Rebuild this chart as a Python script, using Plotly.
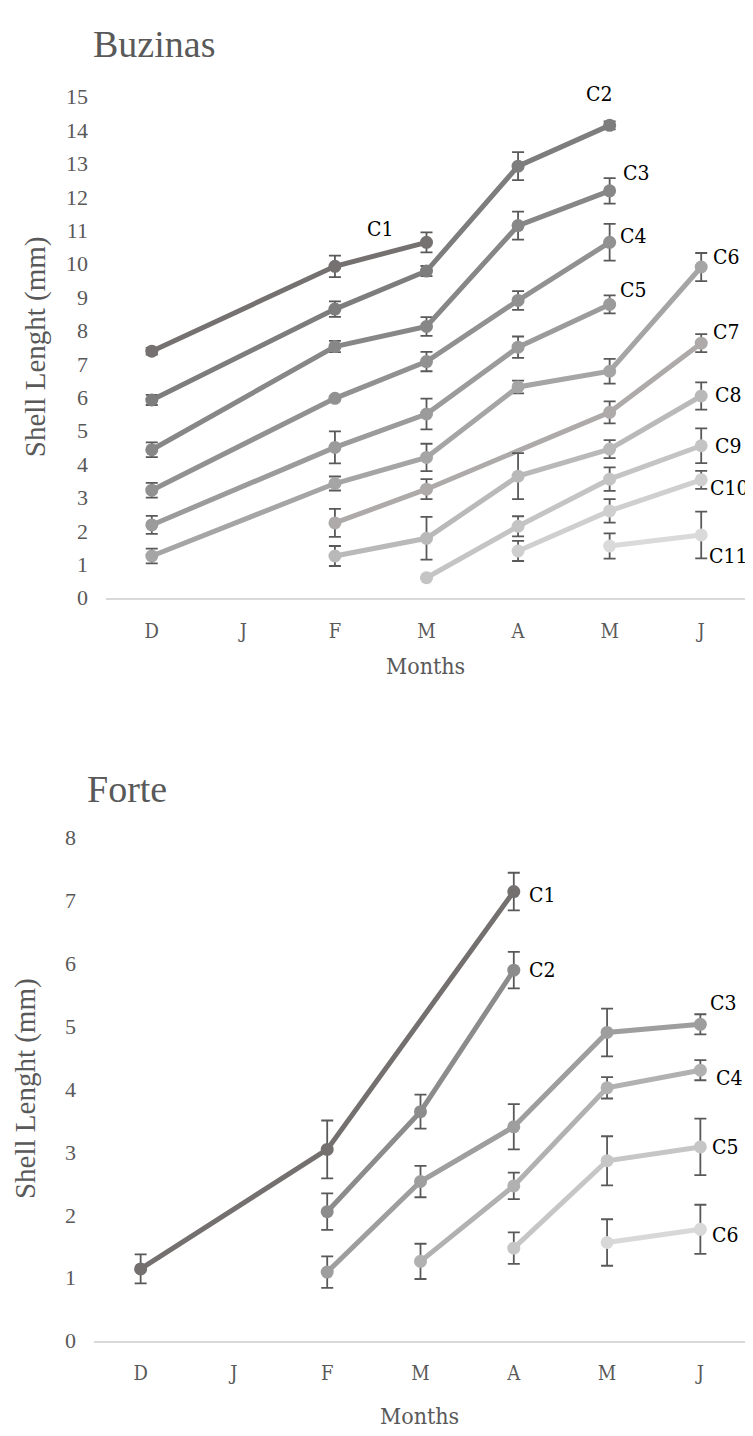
import plotly.graph_objects as go

months = ["D", "J", "F", "M", "A", "M", "J"]
xpos = list(range(len(months)))

# ---- Buzinas ----
buz_names = ["C1", "C2", "C3", "C4", "C5", "C6", "C7", "C8", "C9", "C10", "C11"]
buz_C1 = [7.38, None, 9.92, 10.64, None, None, None]
buz_C2 = [5.92, None, 8.64, 9.78, 12.92, 14.14, None]
buz_C3 = [4.43, None, 7.52, 8.12, 11.14, 12.18, None]
buz_C4 = [3.22, None, 5.97, 7.07, 8.90, 10.64, None]
buz_C5 = [2.18, None, 4.50, 5.50, 7.50, 8.78, None]
buz_C6 = [1.25, None, 3.42, 4.20, 6.31, 6.78, 9.90]
buz_C7 = [None, None, 2.24, 3.25, None, 5.55, 7.62]
buz_C8 = [None, None, 1.25, 1.78, 3.64, 4.45, 6.04]
buz_C9 = [None, None, None, 0.60, 2.14, 3.55, 4.55]
buz_C10 = [None, None, None, None, 1.40, 2.60, 3.53]
buz_C11 = [None, None, None, None, None, 1.55, 1.88]

buz_E1 = [0.10, 0, 0.32, 0.30, 0, 0, 0]
buz_E2 = [0.15, 0, 0.23, 0.15, 0.42, 0.12, 0]
buz_E3 = [0.22, 0, 0.17, 0.28, 0.42, 0.38, 0]
buz_E4 = [0.22, 0, 0.06, 0.29, 0.28, 0.55, 0]
buz_E5 = [0.27, 0, 0.48, 0.46, 0.32, 0.27, 0]
buz_E6 = [0.22, 0, 0.21, 0.41, 0.19, 0.37, 0.42]
buz_E7 = [0, 0, 0.42, 0.30, 0, 0.33, 0.27]
buz_E8 = [0, 0, 0.30, 0.64, 0.69, 0.27, 0.41]
buz_E9 = [0, 0, 0, 0, 0.30, 0.35, 0.52]
buz_E10 = [0, 0, 0, 0, 0.30, 0.35, 0.27]
buz_E11 = [0, 0, 0, 0, 0, 0.38, 0.70]

buz_vals = [buz_C1, buz_C2, buz_C3, buz_C4, buz_C5, buz_C6, buz_C7, buz_C8, buz_C9, buz_C10, buz_C11]
buz_errs = [buz_E1, buz_E2, buz_E3, buz_E4, buz_E5, buz_E6, buz_E7, buz_E8, buz_E9, buz_E10, buz_E11]
buz_colors = ["#757171", "#7d7d7d", "#878787", "#919191", "#9b9b9b", "#a5a5a5",
              "#aeaaaa", "#b9b9b9", "#c4c4c4", "#cfcfcf", "#dadada"]
# label placement: (index of point, xshift, yshift, xanchor)
buz_label_pos = [(3, -47, 13, "center"), (5, -11, 31, "center"), (5, 11, 18, "left"),
                 (5, 8, 6, "left"), (5, 8, 14, "left"), (6, 10, 10, "left"),
                 (6, 10, 11, "left"), (6, 12, 1, "left"), (6, 12, 0, "left"),
                 (6, 7, -8, "left"), (6, 6, -21, "left")]

# ---- Forte ----
for_names = ["C1", "C2", "C3", "C4", "C5", "C6"]
for_C1 = [1.14, None, 3.04, None, 7.14, None, None]
for_C2 = [None, None, 2.05, 3.64, 5.89, None, None]
for_C3 = [None, None, 1.09, 2.53, 3.40, 4.90, 5.03]
for_C4 = [None, None, None, 1.26, 2.46, 4.02, 4.30]
for_C5 = [None, None, None, None, 1.47, 2.86, 3.08]
for_C6 = [None, None, None, None, None, 1.56, 1.77]

for_E1 = [0.23, 0, 0.46, 0, 0.30, 0, 0]
for_E2 = [0, 0, 0.29, 0.27, 0.29, 0, 0]
for_E3 = [0, 0, 0.25, 0.25, 0.36, 0.38, 0.16]
for_E4 = [0, 0, 0, 0.28, 0.21, 0.17, 0.16]
for_E5 = [0, 0, 0, 0, 0.25, 0.39, 0.45]
for_E6 = [0, 0, 0, 0, 0, 0.37, 0.39]

for_vals = [for_C1, for_C2, for_C3, for_C4, for_C5, for_C6]
for_errs = [for_E1, for_E2, for_E3, for_E4, for_E5, for_E6]
for_colors = ["#757070", "#8c8c8c", "#9e9e9e", "#b1b1b1", "#c6c6c6", "#d8d8d8"]
for_label_pos = [(4, 13, -3, "left"), (4, 13, 0, "left"), (6, 8, 21, "left"),
                 (6, 14, -8, "left"), (6, 10, 0, "left"), (6, 10, -6, "left")]

FONT = "Liberation Serif"
COND = "DejaVu Serif Condensed, Liberation Serif"
W, H = 753, 1436

fig = go.Figure()
annotations = []


def add_panel(names, vals, errs, colors, label_pos, xa, ya):
    for name, v, e, c, lp in zip(names, vals, errs, colors, label_pos):
        fig.add_trace(go.Scatter(
            x=xpos, y=v, name=name, mode="lines+markers", connectgaps=True,
            line=dict(color=c, width=5),
            marker=dict(color=c, size=13),
            error_y=dict(type="data", array=e, visible=True, color="#595959",
                         thickness=1.8, width=6),
            xaxis=xa, yaxis=ya, showlegend=False, cliponaxis=False))
        i, dx, dy, anc = lp
        annotations.append(dict(
            x=xpos[i], y=v[i], xref=xa, yref=ya, text=name, showarrow=False,
            xshift=dx, yshift=dy, xanchor=anc, yanchor="middle",
            font=dict(family=COND, size=21, color="#000000")))


add_panel(buz_names, buz_vals, buz_errs, buz_colors, buz_label_pos, "x", "y")
add_panel(for_names, for_vals, for_errs, for_colors, for_label_pos, "x2", "y2")


def px_x(p):
    return p / W


def px_y(p):
    return 1 - p / H


ytick_font = dict(family=FONT, size=22, color="#595959")
xtick_font = dict(family=COND, size=20, color="#595959")

texts = [
    ("Buzinas", 83, 24, 38, 0, "left", FONT),
    ("Forte", 77, 783, 38, 0, "left", FONT),
    ("Months", 418, 657, 23, 0, "center", COND),
    ("Months", 412, 1421, 23, 0, "center", COND),
    ("Shell Lenght (mm)", 27, 333, 29, -90, "center", FONT),
    ("Shell Lenght (mm)", 17, 1088, 29, -90, "center", FONT),
]
for txt, x, y, size, ang, anc, fam in texts:
    annotations.append(dict(
        x=px_x(x), y=px_y(y), xref="paper", yref="paper", text=txt, showarrow=False,
        xanchor=anc, yanchor="middle", textangle=ang,
        font=dict(family=fam, size=size, color="#595959")))

fig.update_layout(
    width=W, height=H, margin=dict(l=0, r=0, t=0, b=0),
    paper_bgcolor="white", plot_bgcolor="white",
    xaxis=dict(domain=[px_x(98), px_x(739)], range=[-0.5, 6.5], tickvals=xpos,
               ticktext=months, anchor="y", showline=True, linecolor="#d9d9d9",
               linewidth=1.5, ticklabelstandoff=14, showgrid=False, zeroline=False,
               ticks="", tickfont=xtick_font),
    yaxis=dict(domain=[px_y(588), px_y(78)], range=[0, 15], dtick=1, anchor="x",
               showline=False, ticklabelstandoff=17, showgrid=False, zeroline=False,
               ticks="", tickfont=ytick_font),
    xaxis2=dict(domain=[px_x(86), px_x(739)], range=[-0.5, 6.5], tickvals=xpos,
                ticktext=months, anchor="y2", showline=True, linecolor="#d9d9d9",
                linewidth=1.5, ticklabelstandoff=14, showgrid=False, zeroline=False,
                ticks="", tickfont=xtick_font),
    yaxis2=dict(domain=[px_y(1344), px_y(832)], range=[0, 8], dtick=1, anchor="x2",
                showline=False, ticklabelstandoff=17, showgrid=False, zeroline=False,
                ticks="", tickfont=ytick_font),
    annotations=annotations,
)

fig.write_html("out.html")
